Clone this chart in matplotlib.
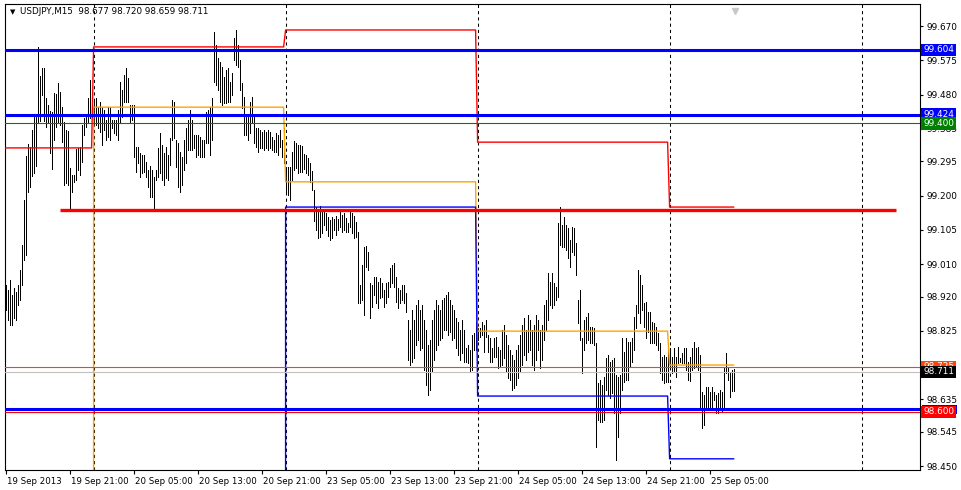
import numpy as np
import matplotlib
matplotlib.use('Agg')
import matplotlib.pyplot as plt
import matplotlib.transforms as mtrans
from matplotlib.patches import Rectangle

# ---------------- data ----------------
symbol_header = "USDJPY,M15  98.677 98.720 98.659 98.711"

highs = [
    98.952, 98.938, 98.966, 98.924, 98.944, 98.932, 98.952, 98.993, 99.063, 99.187,
    99.309, 99.343, 99.334, 99.382, 99.423, 99.420, 99.612, 99.531, 99.553, 99.553,
    99.470, 99.451, 99.434, 99.431, 99.484, 99.481, 99.512, 99.487, 99.445, 99.404,
    99.382, 99.379, 99.276, 99.257, 99.257, 99.329, 99.332, 99.334, 99.395, 99.415,
    99.418, 99.470, 99.520, 99.470, 99.465, 99.470, 99.445, 99.459, 99.445, 99.437,
    99.409, 99.445, 99.445, 99.409, 99.409, 99.409, 99.437, 99.515, 99.492, 99.534,
    99.553, 99.526, 99.451, 99.451, 99.451, 99.334, 99.334, 99.318, 99.312, 99.312,
    99.293, 99.271, 99.282, 99.271, 99.251, 99.271, 99.332, 99.373, 99.340, 99.318,
    99.334, 99.312, 99.359, 99.465, 99.459, 99.354, 99.345, 99.321, 99.307, 99.354,
    99.387, 99.409, 99.437, 99.409, 99.368, 99.368, 99.368, 99.362, 99.354, 99.354,
    99.431, 99.437, 99.445, 99.470, 99.653, 99.617, 99.581, 99.570, 99.556, 99.529,
    99.548, 99.553, 99.515, 99.540, 99.637, 99.659, 99.617, 99.576, 99.512, 99.473,
    99.418, 99.418, 99.459, 99.473, 99.423, 99.387, 99.387, 99.382, 99.376, 99.382,
    99.376, 99.382, 99.376, 99.362, 99.354, 99.373, 99.368, 99.382, 99.354, 99.387,
    99.279, 99.279, 99.279, 99.321, 99.351, 99.345, 99.340, 99.340, 99.337, 99.315,
    99.312, 99.304, 99.290, 99.268, 99.215, 99.168, 99.162, 99.171, 99.154, 99.160,
    99.151, 99.140, 99.132, 99.140, 99.135, 99.143, 99.135, 99.154, 99.146, 99.151,
    99.137, 99.124, 99.160, 99.151, 99.143, 99.126, 99.099, 98.952, 99.007, 99.057,
    99.060, 99.043, 98.957, 98.952, 98.974, 98.974, 98.960, 98.971, 98.957, 98.938,
    98.957, 98.960, 98.999, 99.007, 99.013, 98.974, 98.943, 98.938, 98.952, 98.952,
    98.930, 98.855, 98.827, 98.882, 98.855, 98.896, 98.910, 98.882, 98.896, 98.855,
    98.827, 98.785, 98.799, 98.855, 98.882, 98.910, 98.896, 98.882, 98.910, 98.916,
    98.924, 98.932, 98.910, 98.896, 98.882, 98.860, 98.849, 98.827, 98.855, 98.827,
    98.777, 98.785, 98.771, 98.813, 98.819, 98.849, 98.833, 98.833, 98.849, 98.841,
    98.855, 98.813, 98.805, 98.777, 98.805, 98.808, 98.780, 98.771, 98.827, 98.841,
    98.813, 98.785, 98.771, 98.758, 98.744, 98.771, 98.785, 98.813, 98.841, 98.860,
    98.827, 98.869, 98.855, 98.827, 98.841, 98.869, 98.855, 98.827, 98.841, 98.896,
    98.910, 98.985, 98.960, 98.985, 98.957, 98.946, 99.124, 99.168, 99.118, 99.140,
    99.118, 99.110, 99.077, 99.113, 99.110, 99.068, 98.910, 98.938, 98.805, 98.855,
    98.863, 98.874, 98.835, 98.835, 98.833, 98.791, 98.680, 98.688, 98.675, 98.697,
    98.749, 98.758, 98.738, 98.744, 98.749, 98.702, 98.697, 98.702, 98.805, 98.766,
    98.805, 98.794, 98.794, 98.805, 98.863, 98.896, 98.993, 98.979, 98.952, 98.902,
    98.905, 98.877, 98.877, 98.849, 98.846, 98.835, 98.819, 98.791, 98.752, 98.758,
    98.752, 98.780, 98.777, 98.752, 98.777, 98.752, 98.780, 98.749, 98.763, 98.777,
    98.777, 98.738, 98.752, 98.777, 98.794, 98.777, 98.780, 98.758, 98.655, 98.647,
    98.669, 98.669, 98.655, 98.669, 98.655, 98.647, 98.652, 98.661, 98.655, 98.722,
    98.763, 98.722, 98.708, 98.716, 98.720,
]

lows = [
    98.882, 98.855, 98.841, 98.841, 98.860, 98.855, 98.896, 98.910, 98.952, 99.021,
    99.035, 99.210, 99.224, 99.254, 99.262, 99.282, 99.401, 99.406, 99.479, 99.406,
    99.390, 99.401, 99.318, 99.273, 99.354, 99.390, 99.401, 99.395, 99.348, 99.229,
    99.235, 99.229, 99.165, 99.210, 99.237, 99.243, 99.271, 99.257, 99.293, 99.368,
    99.390, 99.401, 99.415, 99.418, 99.404, 99.395, 99.387, 99.376, 99.340, 99.382,
    99.354, 99.362, 99.354, 99.387, 99.373, 99.368, 99.354, 99.401, 99.418, 99.459,
    99.459, 99.459, 99.404, 99.409, 99.307, 99.265, 99.290, 99.251, 99.262, 99.265,
    99.251, 99.224, 99.196, 99.196, 99.165, 99.243, 99.251, 99.262, 99.243, 99.229,
    99.248, 99.243, 99.285, 99.354, 99.359, 99.279, 99.224, 99.210, 99.229, 99.271,
    99.290, 99.326, 99.326, 99.326, 99.332, 99.307, 99.312, 99.307, 99.307, 99.307,
    99.345, 99.345, 99.312, 99.354, 99.515, 99.506, 99.492, 99.459, 99.451, 99.456,
    99.456, 99.459, 99.459, 99.479, 99.576, 99.562, 99.556, 99.492, 99.442, 99.368,
    99.368, 99.354, 99.373, 99.404, 99.345, 99.334, 99.321, 99.332, 99.332, 99.326,
    99.332, 99.326, 99.332, 99.326, 99.321, 99.321, 99.312, 99.334, 99.307, 99.290,
    99.207, 99.201, 99.187, 99.243, 99.271, 99.276, 99.262, 99.265, 99.265, 99.273,
    99.262, 99.257, 99.237, 99.215, 99.129, 99.104, 99.082, 99.085, 99.096, 99.118,
    99.104, 99.088, 99.077, 99.082, 99.104, 99.090, 99.104, 99.113, 99.099, 99.104,
    99.099, 99.099, 99.113, 99.096, 99.082, 99.085, 98.902, 98.902, 98.910, 98.869,
    99.002, 98.993, 98.860, 98.891, 98.924, 98.902, 98.888, 98.916, 98.919, 98.891,
    98.902, 98.919, 98.946, 98.957, 98.946, 98.905, 98.888, 98.902, 98.910, 98.902,
    98.877, 98.744, 98.730, 98.738, 98.749, 98.785, 98.799, 98.771, 98.777, 98.716,
    98.675, 98.647, 98.661, 98.710, 98.744, 98.771, 98.785, 98.799, 98.805, 98.827,
    98.827, 98.813, 98.821, 98.799, 98.805, 98.777, 98.758, 98.744, 98.763, 98.738,
    98.738, 98.736, 98.710, 98.716, 98.771, 98.771, 98.799, 98.808, 98.813, 98.766,
    98.808, 98.766, 98.738, 98.738, 98.752, 98.752, 98.722, 98.724, 98.730, 98.749,
    98.710, 98.694, 98.688, 98.661, 98.666, 98.675, 98.694, 98.710, 98.730, 98.758,
    98.744, 98.766, 98.771, 98.730, 98.716, 98.744, 98.771, 98.722, 98.744, 98.799,
    98.827, 98.855, 98.896, 98.888, 98.896, 98.910, 98.919, 99.063, 99.057, 99.057,
    99.049, 99.027, 99.002, 99.043, 99.035, 98.979, 98.846, 98.799, 98.708, 98.771,
    98.791, 98.799, 98.791, 98.791, 98.785, 98.503, 98.577, 98.572, 98.572, 98.577,
    98.661, 98.647, 98.639, 98.652, 98.597, 98.466, 98.530, 98.597, 98.661, 98.683,
    98.688, 98.688, 98.724, 98.738, 98.771, 98.833, 98.874, 98.846, 98.882, 98.835,
    98.805, 98.821, 98.791, 98.791, 98.791, 98.785, 98.771, 98.708, 98.688, 98.680,
    98.683, 98.683, 98.724, 98.708, 98.710, 98.697, 98.736, 98.738, 98.736, 98.736,
    98.716, 98.688, 98.686, 98.716, 98.722, 98.724, 98.716, 98.605, 98.555, 98.564,
    98.605, 98.613, 98.605, 98.611, 98.633, 98.597, 98.597, 98.613, 98.600, 98.611,
    98.708, 98.688, 98.641, 98.657, 98.659,
]

x_tick_pos = [0, 32, 64, 96, 128, 160, 192, 224, 256, 288, 320, 352]
x_tick_labels = ["19 Sep 2013", "19 Sep 21:00", "20 Sep 05:00", "20 Sep 13:00",
                 "20 Sep 21:00", "23 Sep 05:00", "23 Sep 13:00", "23 Sep 21:00",
                 "24 Sep 05:00", "24 Sep 13:00", "24 Sep 21:00", "25 Sep 05:00"]
y_ticks = [99.670, 99.575, 99.480, 99.385, 99.295, 99.200, 99.105, 99.010,
           98.920, 98.825, 98.730, 98.635, 98.545, 98.450]
y_tick_hidden = [98.730]  # fully covered by the price labels in the reference

day_starts = [0, 44, 140, 236, 332]
day_separators = [44, 140, 236, 332, 428]
prev_high = [99.332, 99.612, 99.659, 99.348, 99.168]
prev_close = [0.0, 99.445, 99.238, 98.824, 98.730]
prev_low = [0.0, 0.0, 99.168, 98.644, 98.470]

trend_x = [27, 445]
trend_y = [99.160, 99.160]

h_levels = [99.604, 99.424, 99.400, 98.725, 98.711, 98.607, 98.600]
h_colors = ["#0000FF", "#0000FF", "#008000", "#FF4500", "#C0C0C0", "#0000FF", "#FF0000"]
h_widths = [2.2, 2.2, 0.8, 0.8, 0.8, 2.2, 0.8]
label_levels = [99.604, 99.424, 99.400, 98.725, 98.711, 98.600]
label_texts = ["99.604", "99.424", "99.400", "98.725", "98.711", "98.600"]
label_colors = ["#0000FF", "#0000FF", "#008000", "#FF4500", "#000000", "#FF0000"]
hidden_label_level = 98.607  # blue label, mostly covered by the red one

# ---------------- figure ----------------
W, H = 962, 490
fig = plt.figure(figsize=(W / 100, H / 100), dpi=100)
fig.patch.set_facecolor("white")
ax = fig.add_axes([5 / W, 20 / H, 915 / W, 466 / H])
ax.set_facecolor("white")

n = len(highs)
idx = np.arange(n)
ax.set_xlim(-0.3, 457.2)
ax.set_ylim(98.439, 99.731)

# day separators
for s in day_separators:
    ax.axvline(s, color="black", lw=0.75, ls=(0, (3, 3)), zorder=1)

# bars
ax.vlines(idx, lows, highs, colors="black", lw=0.7, antialiased=False, zorder=2)

# daily indicator lines (per bar)
def per_bar(vals):
    out = np.zeros(n)
    for k, st in enumerate(day_starts):
        en = day_starts[k + 1] if k + 1 < len(day_starts) else n
        out[st:en] = vals[k]
    return out

ax.plot(idx, per_bar(prev_close), color="#FFA500", lw=1.0, zorder=3)
ax.plot(idx, per_bar(prev_low), color="#0000FF", lw=1.0, zorder=3)
ax.plot(idx, per_bar(prev_high), color="#FF0000", lw=1.0, zorder=3)

# horizontal lines
for lv, c, w in zip(h_levels, h_colors, h_widths):
    ax.axhline(lv, color=c, lw=w, zorder=4)

# trendline
ax.plot(trend_x, trend_y, color="#FF0000", lw=2.4, solid_capstyle="butt", zorder=4)

# axes styling
for sp in ax.spines.values():
    sp.set_linewidth(0.8)
    sp.set_color("black")
ax.yaxis.tick_right()
ax.set_yticks(y_ticks)
ax.set_yticklabels(["" if v in y_tick_hidden else f"{v:.3f}" for v in y_ticks])
ax.set_xticks(x_tick_pos)
ax.set_xticklabels(x_tick_labels, ha="left")
ax.tick_params(axis="y", direction="out", length=2.5, width=0.8, pad=2.5, labelsize=6.4)
ax.tick_params(axis="x", direction="out", length=3, width=0.8, pad=2, labelsize=6.2)
for lab in ax.get_xticklabels():
    lab.set_transform(lab.get_transform() + mtrans.ScaledTranslation(1 / 100, 0, fig.dpi_scale_trans))

# price labels on right axis
bt = mtrans.blended_transform_factory(ax.transAxes, ax.transData)
ax.add_patch(Rectangle((1.0025, hidden_label_level - 0.0135), 0.038, 0.027, transform=bt,
                       fc="#0000FF", ec="none", clip_on=False, zorder=5))
for k in range(len(label_levels)):
    ax.text(1.0035, label_levels[k], label_texts[k], transform=bt, ha="left", va="center",
            fontsize=6.4, color="white", clip_on=False, zorder=6 + k,
            bbox=dict(boxstyle="square,pad=0.2", fc=label_colors[k], ec="none"))

# header
fig.text(10 / W, 1 - 12 / H, "\u25BC", fontsize=5, va="center", ha="left", color="black")
fig.text(20 / W, 1 - 12 / H, symbol_header, fontsize=6.3, va="center", ha="left", color="black")

# chart shift marker
ax.plot([n - 0.5], [0.985], marker="v", color="#C8C8C8", ms=5,
        transform=mtrans.blended_transform_factory(ax.transData, ax.transAxes),
        clip_on=False, zorder=7)

fig.savefig("out.png", dpi=100, facecolor="white")
